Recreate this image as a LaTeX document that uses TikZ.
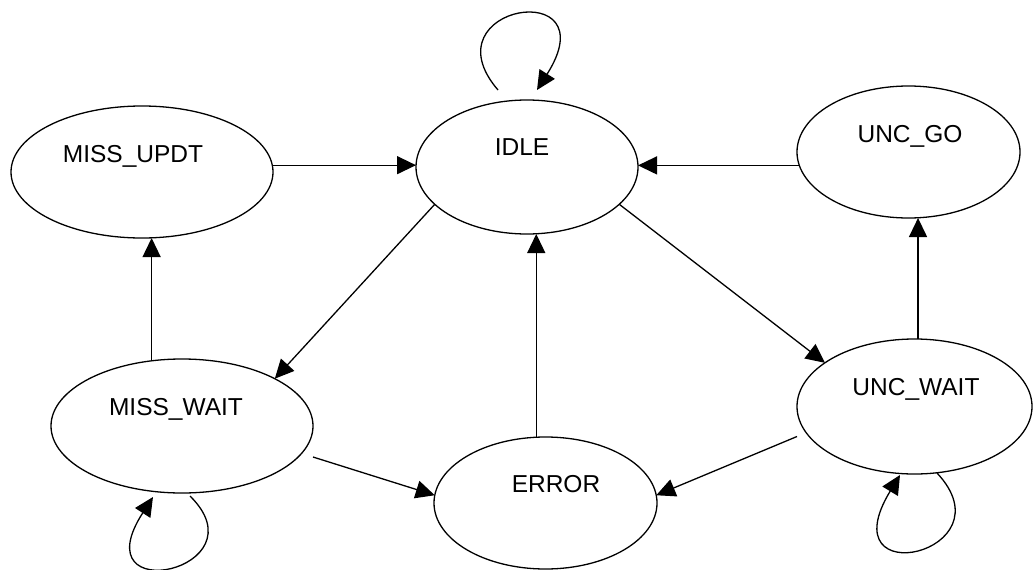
\documentclass[tikz,border=0pt]{standalone}
\usepackage{fontspec}
\setmainfont{Liberation Sans}
\usetikzlibrary{arrows.meta,calc,shapes.geometric}
\begin{document}
\begin{tikzpicture}[x=1pt,y=-1pt,
  state/.style={draw, ellipse, line width=1.3pt, inner sep=0pt, outer sep=0pt},
  lbl/.style={font=\fontsize{24.5}{29}\selectfont, inner sep=0pt, text height=18pt, text depth=0pt},
  arr/.style={line width=1.3pt, -{Triangle[length=19pt,width=18pt]}}]
\useasboundingbox (0,0) rectangle (1033,570);
\node[state, minimum width=262pt, minimum height=132pt,
  label={[lbl,xshift=-9pt,yshift=19pt]center:MISS\_UPDT}] (mupdt) at (142,172) {};
\node[state, minimum width=222pt, minimum height=134pt,
  label={[lbl,xshift=-5pt,yshift=21pt]center:IDLE}] (idle) at (527,167) {};
\node[state, minimum width=223pt, minimum height=132pt,
  label={[lbl,xshift=1.5pt,yshift=19pt]center:UNC\_GO}] (ungo) at (908.5,152) {};
\node[state, minimum width=262pt, minimum height=134pt,
  label={[lbl,xshift=-6pt,yshift=20pt]center:MISS\_WAIT}] (mwait) at (182,426) {};
\node[state, minimum width=223pt, minimum height=132pt,
  label={[lbl,xshift=10.5pt,yshift=20pt]center:ERROR}] (error) at (545.5,503) {};
\node[state, minimum width=235pt, minimum height=135pt,
  label={[lbl,xshift=1.5pt,yshift=20.5pt]center:UNC\_WAIT}] (uwait) at (914.5,406.5) {};

% straight transitions
\draw[arr] (mupdt.3) -- (mupdt.3 -| idle.west);
\draw[arr] (ungo.187) -- (ungo.187 -| idle.east);
\draw[arr] (mwait.115) -- (mwait.115 |- mupdt.south);
\draw[arr] (uwait.87) -- (uwait.87 |- ungo.south);
\draw[arr] (error.98) -- (error.98 |- idle.south);
\draw[arr] (idle.202) -- (mwait.27);
\draw[arr] (idle.338) -- (uwait.154);
\draw[arr] ($(mwait.east)+(0,31)$) -- (error.176);
\draw[arr] ($(uwait.west)+(0,30)$) -- (error.4);

% self loops
\coordinate (idleS) at ($(idle.north)+(-29,-10)$);
\coordinate (idleE) at ($(idle.north)+(10,-10)$);
\draw[arr] (idleS) .. controls +(-73,-85) and +(73,-115) .. (idleE);
\coordinate (mwS) at ($(mwait.south)+(8,3)$);
\coordinate (mwE) at ($(mwait.south)+(-29,4)$);
\draw[arr] (mwS) .. controls +(75,74) and +(-73,113) .. (mwE);
\coordinate (uwS) at ($(uwait.south)+(22.5,-1)$);
\coordinate (uwE) at ($(uwait.south)+(-14.5,1)$);
\draw[arr] (uwS) .. controls +(75,80) and +(-73,120) .. (uwE);
\end{tikzpicture}
\end{document}
